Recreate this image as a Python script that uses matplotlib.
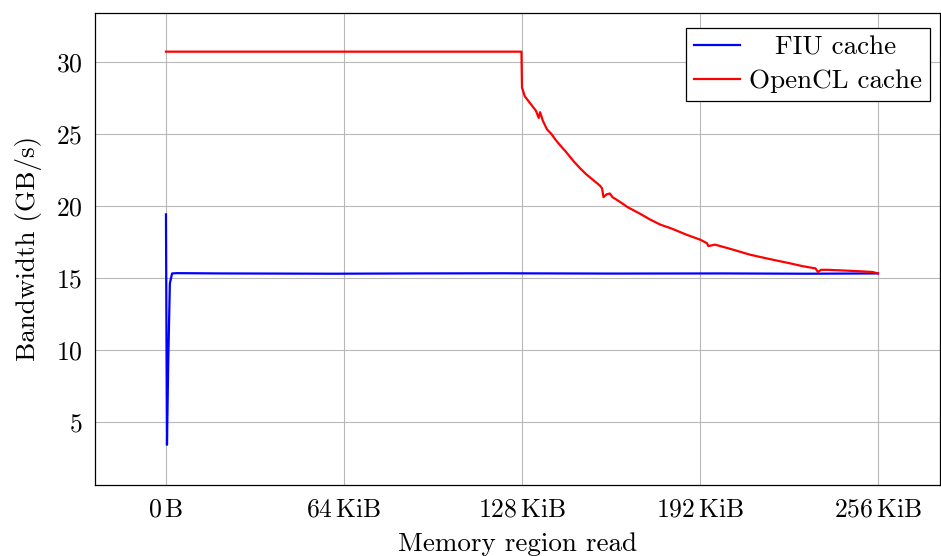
import matplotlib
matplotlib.use("Agg")
import matplotlib.pyplot as plt

plt.rcParams['font.family'] = ['cmr10', 'DejaVu Serif']
plt.rcParams['mathtext.fontset'] = 'cm'
plt.rcParams['axes.formatter.use_mathtext'] = True

# Data (x in KiB, bandwidth in GB/s)
fiu_x = [0.0, 0.2, 0.36, 0.8, 1.4, 2.2, 4.0, 20.0, 60.0, 90.0, 120.0, 160.0, 200.0, 230.0, 256.0]
fiu_y = [19.4, 10.0, 3.4, 9.0, 14.6, 15.3, 15.32, 15.3, 15.28, 15.3, 15.31, 15.29, 15.3, 15.28, 15.3]

ocl_x = [0.0, 127.8, 128.0, 129.0, 131.0, 133.0, 134.0, 134.5, 135.5, 137.0, 138.5, 140.0, 141.7,
         144.0, 146.5, 148.9, 151.0, 153.5, 156.0, 156.8, 157.3, 158.5, 159.6, 160.5, 163.0,
         166.0, 170.4, 174.0, 177.6, 182.0, 187.0, 192.0, 194.5, 195.0, 197.4, 203.0, 210.0,
         217.0, 224.4, 229.0, 233.5, 234.4, 235.5, 238.0, 244.0, 249.5, 254.0, 256.0]
ocl_y = [30.7, 30.7, 28.2, 27.6, 27.1, 26.6, 26.1, 26.5, 25.9, 25.3, 25.0, 24.6, 24.2,
         23.7, 23.1, 22.6, 22.2, 21.8, 21.4, 21.2, 20.6, 20.8, 20.85, 20.6, 20.3,
         19.9, 19.45, 19.05, 18.7, 18.4, 18.0, 17.65, 17.4, 17.2, 17.3, 17.0, 16.6,
         16.3, 16.0, 15.8, 15.65, 15.4, 15.55, 15.55, 15.5, 15.45, 15.4, 15.3]

xticks = [0, 64, 128, 192, 256]
xticklabels = [r"$0\,\mathrm{B}$", r"$64\,\mathrm{KiB}$", r"$128\,\mathrm{KiB}$",
               r"$192\,\mathrm{KiB}$", r"$256\,\mathrm{KiB}$"]
yticks = [5, 10, 15, 20, 25, 30]

fig = plt.figure(figsize=(9.41, 5.56), dpi=100)
ax = fig.add_axes([0.101, 0.128, 0.898, 0.849])

ax.plot(fiu_x, fiu_y, color='#0000ff', lw=1.6, label='FIU cache')
ax.plot(ocl_x, ocl_y, color='#ff0000', lw=1.6, label='OpenCL cache')

ax.set_xlim(-25.5, 278.3)
ax.set_ylim(0.62, 33.4)
ax.set_xticks(xticks)
ax.set_xticklabels(xticklabels)
ax.set_yticks(yticks)
ax.grid(True, color='#b8b8b8', lw=0.8)
ax.set_axisbelow(True)
ax.tick_params(direction='in', length=0, labelsize=18.5, pad=9)
for s in ax.spines.values():
    s.set_color('black')
    s.set_linewidth(0.9)

ax.set_xlabel('Memory region read', fontsize=19.5, labelpad=8)
ax.set_ylabel('Bandwidth (GB/s)', fontsize=19.5, labelpad=10)

leg = ax.legend(loc='upper right', bbox_to_anchor=(0.988, 0.968), fontsize=19.5,
                frameon=True, fancybox=False, edgecolor='black', framealpha=1,
                borderaxespad=0.0, handlelength=1.7, handletextpad=0.35,
                borderpad=0.28, labelspacing=0.36)
leg.get_frame().set_linewidth(0.9)

# center legend labels like the reference
fig.canvas.draw()
r = fig.canvas.get_renderer()
texts = leg.get_texts()
widths = [t.get_window_extent(r).width for t in texts]
wmax = max(widths)
for t, w in zip(texts, widths):
    t.set_x((wmax - w) / 2.0)

fig.savefig('out.png', dpi=100)
